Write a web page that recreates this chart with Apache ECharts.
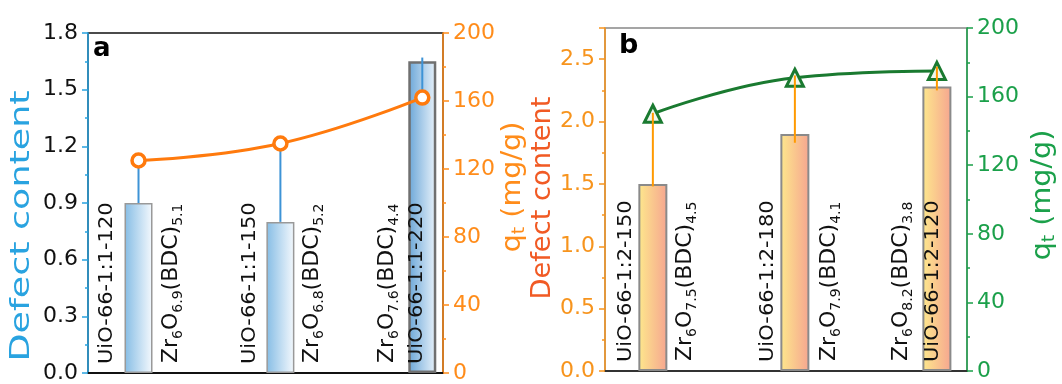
<!DOCTYPE html>
<html><head><meta charset="utf-8">
<script src="https://cdn.jsdelivr.net/npm/echarts@6/dist/echarts.min.js"></script>
<style>html,body{margin:0;padding:0;background:#fff}#c{width:1062px;height:384px}</style>
</head><body><div id="c"></div>
<script>
// ---------- data ----------
const xPos = [1, 2, 3];
const namesA = ['UiO-66-1:1-120', 'UiO-66-1:1-150', 'UiO-66-1:1-220'];
const formulaA = [['6', '6.9', '5.1'], ['6', '6.8', '5.2'], ['6', '7.6', '4.4']];
const defectA = [0.90, 0.80, 1.65];
const qtA = [125, 135, 162];
const errLowA = [0.90, 0.80, 1.49];
const errHighA = [1.13, 1.20, 1.67];

const namesB = ['UiO-66-1:2-150', 'UiO-66-1:2-180', 'UiO-66-1:2-120'];
const formulaB = [['6', '7.5', '4.5'], ['6', '7.9', '4.1'], ['6', '8.2', '3.8']];
const defectB = [1.50, 1.90, 2.28];
const qtB = [150, 171, 175];
const errLowB = [1.48, 1.83, 2.25];
const errHighB = [2.07, 2.37, 2.44];

// ---------- styling ----------
const FONT = 'DejaVu Sans';
const blue = '#29a3e0', orange = '#ff8c1a', orangeB = '#f7941d', red = '#f15a24', green = '#1ba04a', dgreen = '#1a7a30';

const toPairs = (xs, ys) => xs.map((x, i) => [x, ys[i]]);
const toTriples = (xs, a, b) => xs.map((x, i) => [x, a[i], b[i]]);

const richLabel = {
  n: { fontSize: 22, fontFamily: FONT, fill: '#111', lineHeight: 28 },
  s: { fontSize: 14, fontFamily: FONT, fill: '#111', lineHeight: 14, verticalAlign: 'bottom' }
};
function formulaText(f) {
  return '{n|Zr}{s|' + f[0] + '}{n|O}{s|' + f[1] + '}{n|(BDC)}{s|' + f[2] + '}';
}

// label layout (pixel offsets relative to bar centre)
const nameDx = { a: [-32, -31, -5], b: [-27, -27, -4] };
const formDx = { a: [33, 32, -35], b: [32, 34, -36] };

function labelSeries(grid, names, formulas) {
  return {
    type: 'custom',
    xAxisIndex: grid === 'a' ? 0 : 1,
    yAxisIndex: grid === 'a' ? 0 : 2,
    data: xPos.map(x => [x, 0]),
    z: 10,
    silent: true,
    renderItem(params, api) {
      const i = params.dataIndex;
      const p = api.coord([api.value(0), 0]);
      return {
        type: 'group',
        children: [
          {
            type: 'text', x: p[0] + nameDx[grid][i], y: p[1] - 9, rotation: Math.PI / 2,
            style: { text: names[i], fontSize: 20, fontFamily: FONT, fill: '#111', align: 'left', verticalAlign: 'middle' },
            scaleX: 1.05
          },
          {
            type: 'text', x: p[0] + formDx[grid][i], y: p[1] - 10, rotation: Math.PI / 2,
            style: { text: formulaText(formulas[i]), rich: richLabel, align: 'left', verticalAlign: 'middle' }
          }
        ]
      };
    }
  };
}

function errSeries(xIdx, yIdx, data, color, z) {
  return {
    type: 'custom', xAxisIndex: xIdx, yAxisIndex: yIdx, data, z, silent: true,
    renderItem(params, api) {
      const p1 = api.coord([api.value(0), api.value(1)]);
      const p2 = api.coord([api.value(0), api.value(2)]);
      return { type: 'line', shape: { x1: p1[0], y1: p1[1], x2: p2[0], y2: p2[1] }, style: { stroke: color, lineWidth: 2 } };
    }
  };
}

const gradA = new echarts.graphic.LinearGradient(0, 0, 1, 0, [{ offset: 0, color: '#86bde5' }, { offset: 1, color: '#f5f9fd' }]);
const gradA3 = new echarts.graphic.LinearGradient(0, 0, 1, 0, [{ offset: 0, color: '#6aa6d8' }, { offset: 1, color: '#eaf3fb' }]);
const gradB = new echarts.graphic.LinearGradient(0, 0, 1, 0, [{ offset: 0, color: '#fde88c' }, { offset: 1, color: '#f6a590' }]);

function yAxisBase(color, labelColor, position, min, max, interval, decimals, gridIndex) {
  return {
    type: 'value', gridIndex, position, min, max, interval,
    axisLine: { show: true, lineStyle: { color, width: 1.5 } },
    axisTick: { show: true, inside: false, length: 6, lineStyle: { color, width: 1.5 } },
    minorTick: { show: true, splitNumber: 2, length: 3, lineStyle: { color, width: 1.5 } },
    splitLine: { show: false },
    axisLabel: {
      color: labelColor, fontSize: 22, fontFamily: FONT, margin: 10, showMaxLabel: decimals !== 2 ? null : false,
      formatter: v => decimals ? v.toFixed(1) : String(v)
    }
  };
}

const chart = echarts.init(document.getElementById('c'), null, { renderer: 'canvas' });
chart.setOption({
  animation: false,
  backgroundColor: '#fff',
  grid: [
    { left: 88, top: 33, width: 355, height: 342, show: true, borderColor: '#111', borderWidth: 1.5, backgroundColor: 'transparent' },
    { left: 605, top: 28, width: 362, height: 343, show: true, borderColor: '#888', borderWidth: 1.5, backgroundColor: 'transparent' }
  ],
  xAxis: [
    { type: 'value', gridIndex: 0, min: 0.644, max: 3.146, axisLine: { show: true, onZero: false, lineStyle: { color: '#111', width: 2 } }, axisTick: { show: false }, axisLabel: { show: false }, splitLine: { show: false } },
    { type: 'value', gridIndex: 1, min: 0.663, max: 3.212, axisLine: { show: true, onZero: false, lineStyle: { color: '#333', width: 2 } }, axisTick: { show: false }, axisLabel: { show: false }, splitLine: { show: false } }
  ],
  yAxis: [
    yAxisBase(blue, '#111', 'left', 0, 1.8, 0.3, 1, 0),
    yAxisBase(orange, orange, 'right', 0, 200, 40, 0, 0),
    yAxisBase(orangeB, orangeB, 'left', 0, 2.75, 0.5, 2, 1),
    yAxisBase(green, green, 'right', 0, 200, 40, 0, 1)
  ],
  series: [
    {
      type: 'bar', xAxisIndex: 0, yAxisIndex: 0, barWidth: 28, z: 2,
      data: toPairs(xPos, defectA).map((d, i) => ({ value: d, itemStyle: { color: i === 2 ? gradA3 : gradA, borderColor: i === 2 ? '#707070' : '#999', borderWidth: i === 2 ? 2.5 : 1.5 } }))
    },
    errSeries(0, 0, toTriples(xPos, errLowA, errHighA), '#3d93d6', 3),
    {
      type: 'line', xAxisIndex: 0, yAxisIndex: 1, data: toPairs(xPos, qtA), smooth: 0.45, z: 5,
      symbol: 'circle', symbolSize: 13,
      lineStyle: { color: '#ff7a0d', width: 3 },
      itemStyle: { color: '#fff', borderColor: '#ff7a0d', borderWidth: 3.5 }
    },
    labelSeries('a', namesA, formulaA),
    {
      type: 'bar', xAxisIndex: 1, yAxisIndex: 2, barWidth: 29, z: 2,
      data: toPairs(xPos, defectB),
      itemStyle: { color: gradB, borderColor: '#8a8a8a', borderWidth: 2 }
    },
    {
      type: 'line', xAxisIndex: 1, yAxisIndex: 3, data: toPairs(xPos, qtB), smooth: 0.45, z: 5,
      symbol: 'triangle', symbolSize: 17,
      lineStyle: { color: dgreen, width: 3 },
      itemStyle: { color: '#eef6ee', borderColor: dgreen, borderWidth: 3 }
    },
    errSeries(1, 2, toTriples(xPos, errLowB, errHighB), '#ff9a00', 8),
    labelSeries('b', namesB, formulaB)
  ],
  graphic: [
    { type: 'text', x: 93, y: 36, style: { text: 'a', font: 'bold 26px "DejaVu Sans"', fill: '#000' } },
    { type: 'text', x: 619, y: 32, style: { text: 'b', font: 'bold 27px "DejaVu Sans"', fill: '#000' } },
    { type: 'text', x: 22, y: 226, rotation: Math.PI / 2, scaleX: 1.35,
      style: { text: 'Defect content', font: '27px "DejaVu Sans"', fill: blue, align: 'center', verticalAlign: 'middle' } },
    { type: 'text', x: 513, y: 187, rotation: Math.PI / 2, scaleX: 1.1,
      style: { text: '{m|q}{t|t}{m| (mg/g)}', fill: orange, align: 'center', verticalAlign: 'middle',
        rich: { m: { fontSize: 26, fontFamily: FONT, fill: orange, lineHeight: 30 }, t: { fontSize: 17, fontFamily: FONT, fill: orange, lineHeight: 17, verticalAlign: 'bottom' } } } },
    { type: 'text', x: 543, y: 198, rotation: Math.PI / 2, scaleX: 1.05,
      style: { text: 'Defect content', font: '26px "DejaVu Sans"', fill: red, align: 'center', verticalAlign: 'middle' } },
    { type: 'text', x: 1043, y: 195, rotation: Math.PI / 2, scaleX: 1.1,
      style: { text: '{m|q}{t|t}{m| (mg/g)}', fill: green, align: 'center', verticalAlign: 'middle',
        rich: { m: { fontSize: 26, fontFamily: FONT, fill: green, lineHeight: 30 }, t: { fontSize: 17, fontFamily: FONT, fill: green, lineHeight: 17, verticalAlign: 'bottom' } } } }
  ]
});
</script>
</body></html>
